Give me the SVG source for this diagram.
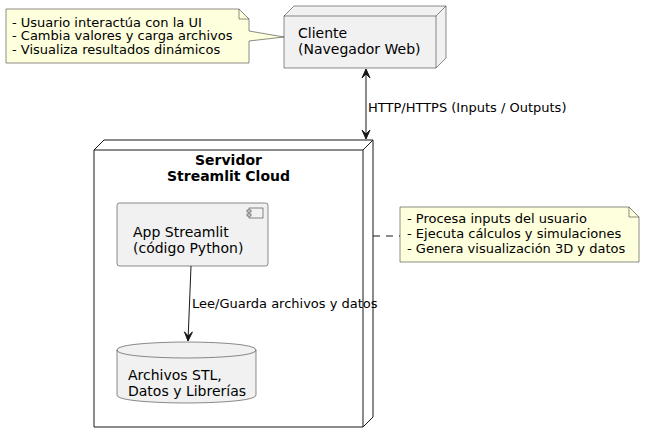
<svg xmlns="http://www.w3.org/2000/svg" width="645" height="444" viewBox="0 0 645 444">
<style>
text{font-family:"DejaVu Sans",sans-serif;fill:#000}
.t14{font-size:14px}
.t13{font-size:13px}
.b{font-weight:bold}
.node{fill:#F1F1F1;stroke:#181818;stroke-width:0.5}
.srv{fill:#FFFFFF;stroke:#181818;stroke-width:1}
.note{fill:#FEFFDD;stroke:#181818;stroke-width:0.5}
.line{fill:none;stroke:#181818;stroke-width:1}
.head{fill:#181818;stroke:#181818;stroke-width:1}
</style>
<rect width="645" height="444" fill="#FFFFFF"/>
<g id="servidor">
<polygon class="srv" points="94,150 104,140 373,140 373,417 363,427 94,427"/>
<polyline class="line" points="94,150 363,150 373,140"/>
<line class="line" x1="363" y1="150" x2="363" y2="427"/>
<text class="t14 b" x="228.5" y="165" text-anchor="middle">Servidor</text>
<text class="t14 b" x="228.5" y="181" text-anchor="middle">Streamlit Cloud</text>
</g>
<g id="cliente">
<polygon class="node" points="284,16 294,6 446,6 446,58 436,68 284,68"/>
<polyline class="node" style="fill:none" points="284,16 436,16 446,6"/>
<line class="node" x1="436" y1="16" x2="436" y2="68"/>
<text class="t14" x="298" y="38">Cliente</text>
<text class="t14" x="298" y="54">(Navegador Web)</text>
</g>
<g id="app">
<rect class="node" x="117" y="203" width="151" height="63" rx="2.5"/>
<rect class="node" x="249" y="208" width="14" height="10"/>
<rect class="node" x="247" y="210" width="4" height="2"/>
<rect class="node" x="247" y="214" width="4" height="2"/>
<text class="t14" x="133" y="237">App Streamlit</text>
<text class="t14" x="133" y="253">(código Python)</text>
</g>
<g id="archivos">
<path class="node" d="M117,350 C117,342 186.5,342 186.5,342 C186.5,342 256,342 256,350 L256,395 C256,403 186.5,403 186.5,403 C186.5,403 117,403 117,395 Z"/>
<path class="node" style="fill:none" d="M117,350 C117,358 186.5,358 186.5,358 C186.5,358 256,358 256,350"/>
<text class="t14" x="128" y="380">Archivos STL,</text>
<text class="t14" x="128" y="396">Datos y Librerías</text>
</g>
<g id="nota1">
<polygon class="note" points="6,9 239,9 249,19 249,31 284,37 249,41 249,63 6,63"/>
<polyline class="note" style="fill:none" points="239,9 239,19 249,19"/>
<text class="t13" x="12" y="26.5">- Usuario interactúa con la UI</text>
<text class="t13" x="12" y="40">- Cambia valores y carga archivos</text>
<text class="t13" x="12" y="53.5">- Visualiza resultados dinámicos</text>
</g>
<g id="nota2">
<polygon class="note" points="400,207 629,207 639,217 639,262 400,262"/>
<polyline class="note" style="fill:none" points="629,207 629,217 639,217"/>
<text class="t13" x="407" y="223">- Procesa inputs del usuario</text>
<text class="t13" x="407" y="238">- Ejecuta cálculos y simulaciones</text>
<text class="t13" x="407" y="253">- Genera visualización 3D y datos</text>
</g>
<g id="connectors">
<line class="line" x1="366" y1="69" x2="366" y2="139"/>
<polygon class="head" points="366,69 370,78 366,74 362,78"/>
<polygon class="head" points="366,139 370,130 366,134 362,130"/>
<text class="t13" x="368" y="112">HTTP/HTTPS (Inputs / Outputs)</text>
<line class="line" x1="191" y1="266" x2="188" y2="341"/>
<polygon class="head" points="188,341 184.4,331.8 188.2,336 192.4,332.1"/>
<text class="t13" x="192" y="308">Lee/Guarda archivos y datos</text>
<line class="line" x1="373" y1="236" x2="400" y2="236" stroke-dasharray="7,6"/>
</g>
</svg>
